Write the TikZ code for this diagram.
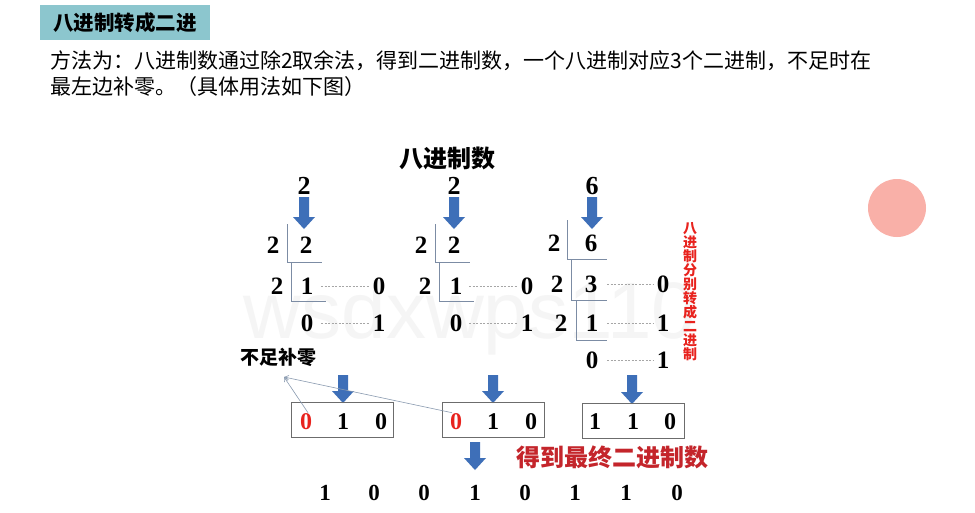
\documentclass[tikz,border=0pt]{standalone}
\usepackage{fontspec}
\usetikzlibrary{arrows.meta}
\setmainfont{Liberation Serif}
\newfontfamily\cjk{Noto Sans CJK SC}
\newfontfamily\wmfont{Liberation Sans}
\definecolor{hdr}{HTML}{8CC6CE}
\definecolor{arrowblue}{HTML}{3E6FB8}
\definecolor{redtxt}{HTML}{E8231E}
\definecolor{darkred}{HTML}{C4252B}
\definecolor{pinkdot}{HTML}{F9B0A8}
\definecolor{linegray}{HTML}{8A9BB0}
\definecolor{divgray}{HTML}{7C8CA4}
\newcommand{\blockarrow}[3]{\fill[arrowblue] (#1-5,#2) -- (#1+5,#2) -- (#1+5,#3-12) -- (#1+11,#3-12) -- (#1,#3) -- (#1-11,#3-12) -- (#1-5,#3-12) -- cycle;}
\tikzset{
  digit/.style={font=\fontsize{25}{25}\selectfont\bfseries, inner sep=1pt},
  topdigit/.style={font=\fontsize{26}{26}\selectfont\bfseries, inner sep=1pt},
  boxdigit/.style={font=\fontsize{24}{24}\selectfont\bfseries, inner sep=1pt},
  botdigit/.style={font=\fontsize{23}{23}\selectfont\bfseries, inner sep=1pt},
  divline/.style={draw=divgray, line width=0.8pt},
  dots/.style={draw=gray!70, dash pattern=on 2pt off 1.5pt, line width=0.6pt},
  binbox/.style={draw=gray!85!black, line width=0.9pt, minimum width=102pt, minimum height=35pt, inner sep=0pt},
  thinarrow/.style={draw=linegray, line width=0.6pt, -{Straight Barb[length=4pt,width=5pt]}},
}
\begin{document}
\begin{tikzpicture}[x=1pt,y=-1pt]
\useasboundingbox (0,0) rectangle (975,512);
\fill[white] (0,0) rectangle (975,512);
% watermark
\node[font=\wmfont\fontsize{80}{80}\selectfont, text=gray!8, inner sep=0pt] (wm) at (470,318) {wsdxwps110};
% pink dot
\fill[pinkdot] (897,208) circle (29);
% header
\node[fill=hdr, minimum width=170pt, minimum height=35pt, inner sep=0pt, font=\cjk\bfseries\fontsize{20.5}{20.5}\selectfont] (hdr) at (125,22.5) {八进制转成二进};
\node[anchor=west, inner sep=0pt, font=\cjk\fontsize{21}{21}\selectfont] (desc1) at (50,61) {方法为：八进制数通过除2取余法，得到二进制数，一个八进制对应3个二进制，不足时在};
\node[anchor=west, inner sep=0pt, font=\cjk\fontsize{21}{21}\selectfont] (desc2) at (50,87) {最左边补零。（具体用法如下图）};
% title
\node[font=\cjk\bfseries\fontsize{24}{24}\selectfont] (title) at (447,158) {八进制数};
% top digits and arrows
\node[topdigit] (t1) at (304,186) {2};
\node[topdigit] (t2) at (454,186) {2};
\node[topdigit] (t3) at (592,186) {6};
\blockarrow{304}{197}{229}
\blockarrow{454}{197}{229}
\blockarrow{592}{197}{229}
% column 1
\node[digit] (a1d) at (273,245) {2};
\node[digit] (a1n) at (306,245) {2};
\node[digit] (a2d) at (277,286) {2};
\node[digit] (a2q) at (307,286) {1};
\node[digit] (a2r) at (379,286) {0};
\node[digit] (a3q) at (307,323) {0};
\node[digit] (a3r) at (379,323) {1};
\draw[divline] (287,224) -- (287,262) -- (322,262);
\draw[divline] (291,262) -- (291,301) -- (326,301);
\draw[dots] (321,286) -- (370,286);
\draw[dots] (321,323) -- (370,323);
% column 2
\node[digit] (b1d) at (421,245) {2};
\node[digit] (b1n) at (454,245) {2};
\node[digit] (b2d) at (425,286) {2};
\node[digit] (b2q) at (456,286) {1};
\node[digit] (b2r) at (527,286) {0};
\node[digit] (b3q) at (456,323) {0};
\node[digit] (b3r) at (527,323) {1};
\draw[divline] (435,224) -- (435,262) -- (470,262);
\draw[divline] (439,262) -- (439,301) -- (474,301);
\draw[dots] (469,286) -- (518,286);
\draw[dots] (469,323) -- (518,323);
% column 3
\node[digit] (c1d) at (554,243) {2};
\node[digit] (c1n) at (591,243) {6};
\node[digit] (c2d) at (557,284) {2};
\node[digit] (c2q) at (591,284) {3};
\node[digit] (c2r) at (663,284) {0};
\node[digit] (c3d) at (561,323) {2};
\node[digit] (c3q) at (592,323) {1};
\node[digit] (c3r) at (663,323) {1};
\node[digit] (c4q) at (592,360) {0};
\node[digit] (c4r) at (663,360) {1};
\draw[divline] (567,220) -- (567,259) -- (607,259);
\draw[divline] (571,259) -- (571,300) -- (607,300);
\draw[divline] (576,300) -- (576,340) -- (607,340);
\draw[dots] (607,284) -- (653,284);
\draw[dots] (607,323) -- (653,323);
\draw[dots] (607,360) -- (653,360);
% red vertical label
\node[text=redtxt, align=center, inner sep=0pt, font=\cjk\bfseries\fontsize{14}{14}\selectfont] (vlab) at (690,292) {八\\进\\制\\分\\别\\转\\成\\二\\进\\制};
% not enough -> pad zero
\node[font=\cjk\bfseries\fontsize{19}{19}\selectfont, inner sep=0pt] (pad) at (278,357) {不足补零};
\coordinate (tip) at (284,377);
% arrows to boxes
\blockarrow{343}{375}{403}
\blockarrow{493}{375}{403}
\blockarrow{632}{375}{404}
% boxes
\node[binbox] (box1) at (342,419.5) {};
\node[binbox] (box2) at (493,419.5) {};
\node[binbox] (box3) at (633,421) {};
\node[boxdigit, text=redtxt] (x1) at (306,422) {0};
\node[boxdigit] (x2) at (343,422) {1};
\node[boxdigit] (x3) at (381,422) {0};
\node[boxdigit, text=redtxt] (y1) at (456,422) {0};
\node[boxdigit] (y2) at (493,422) {1};
\node[boxdigit] (y3) at (531,422) {0};
\node[boxdigit] (z1) at (595,422) {1};
\node[boxdigit] (z2) at (633,422) {1};
\node[boxdigit] (z3) at (670,422) {0};
\draw[thinarrow] ([xshift=2pt]x1.north) -- (tip);
\draw[thinarrow] ([xshift=-4pt]y1.north) -- (tip);
% final
\blockarrow{475}{442}{470}
\node[text=darkred, font=\cjk\bfseries\fontsize{24}{24}\selectfont, inner sep=0pt] (final) at (612,457) {得到最终二进制数};
\foreach \v/\x [count=\i] in {1/325,0/374,0/424,1/475,0/525,1/575,1/626,0/677}{
  \node[botdigit] (f\i) at (\x,493) {\v};
}
\end{tikzpicture}
\end{document}
